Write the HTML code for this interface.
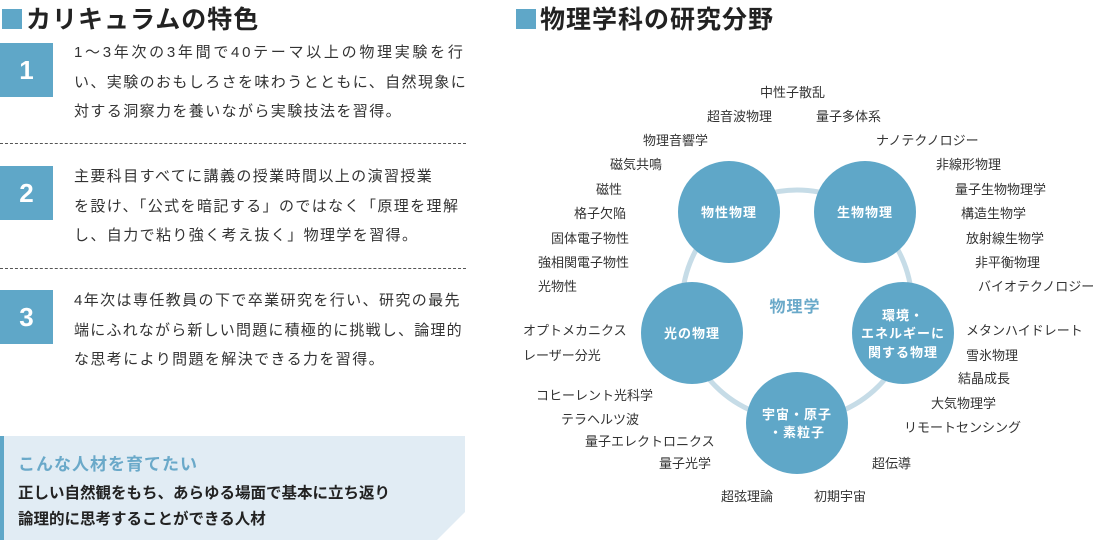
<!DOCTYPE html>
<html><head><meta charset="utf-8"><style>
body{margin:0;width:1098px;height:545px;background:#fff;position:relative;overflow:hidden;font-family:"Liberation Sans","Noto Sans CJK JP",sans-serif;color:#222}
.a{position:absolute;white-space:nowrap}
h2{position:absolute;margin:0;font-size:25px;font-weight:bold;color:#222;letter-spacing:1px}
.sq{display:inline-block;width:20px;height:20px;background:#5fa7c8;margin-right:4px;vertical-align:-1px}
.num{position:absolute;left:0;width:53px;height:54px;background:#5fa7c8;color:#fff;font-size:26px;font-weight:bold;text-align:center;line-height:54px}
.p{position:absolute;left:74px;font-size:15px;line-height:29.5px;letter-spacing:1.4px;color:#333;white-space:nowrap}
.dash{position:absolute;left:0;width:466px;border-top:1px dashed #555}
.l{position:absolute;font-size:13px;white-space:nowrap;color:#333}
</style></head><body>
<h2 style="left:2px;top:0px"><span class="sq"></span>カリキュラムの特色</h2>
<h2 style="left:516px;top:0px"><span class="sq"></span>物理学科の研究分野</h2>

<div class="num" style="top:43px">1</div>
<div class="p" style="top:38px"><span style="letter-spacing:2.7px">1～3年次の3年間で40テーマ以上の物理実験を行</span><br>い、実験のおもしろさを味わうとともに、自然現象に<br>対する洞察力を養いながら実験技法を習得。</div>
<div class="dash" style="top:143px"></div>
<div class="num" style="top:166px">2</div>
<div class="p" style="top:162px">主要科目すべてに講義の授業時間以上の演習授業<br>を設け、「公式を暗記する」のではなく「原理を理解<br>し、自力で粘り強く考え抜く」物理学を習得。</div>
<div class="dash" style="top:268px"></div>
<div class="num" style="top:290px">3</div>
<div class="p" style="top:286px"><span style="letter-spacing:1.4px">4年次は専任教員の下で卒業研究を行い、研究の最先</span><br><span style="letter-spacing:1.2px">端にふれながら新しい問題に積極的に挑戦し、論理的</span><br>な思考により問題を解決できる力を習得。</div>

<svg class="a" style="left:0;top:436px" width="470" height="106"><polygon points="0,0 465,0 465,76 437,104 0,104" fill="#e1ecf4"/><rect x="0" y="0" width="4" height="104" fill="#5fa7c8"/></svg>
<div class="a" style="left:18px;top:450px;font-size:17px;font-weight:bold;color:#6aa9c9;letter-spacing:1px">こんな人材を育てたい</div>
<div class="a" style="left:18px;top:481px;font-size:15.5px;font-weight:bold;line-height:26px;color:#222">正しい自然観をもち、あらゆる場面で基本に立ち返り<br>論理的に思考することができる人材</div>

<svg class="a" style="left:0;top:0" width="1098" height="545">
<circle cx="797" cy="305" r="115" fill="none" stroke="#c6dce7" stroke-width="5"/>
<g fill="#5fa7c8">
<circle cx="729" cy="212" r="51"/><circle cx="865" cy="212" r="51"/>
<circle cx="692" cy="333" r="51"/><circle cx="903" cy="333" r="51"/>
<circle cx="797" cy="423" r="51"/></g>
<g fill="#fff" font-weight="bold" font-size="13" text-anchor="middle" font-family="Liberation Sans,Noto Sans CJK JP,sans-serif" letter-spacing="1">
<text x="729" y="217">物性物理</text><text x="865" y="217">生物物理</text>
<text x="692" y="338">光の物理</text>
<text x="903" y="320">環境・</text><text x="903" y="338">エネルギーに</text><text x="903" y="357">関する物理</text>
<text x="797" y="419">宇宙・原子</text><text x="797" y="437">・素粒子</text></g>
<text x="795" y="312" fill="#6aa9c9" font-size="16" font-weight="bold" text-anchor="middle" font-family="Liberation Sans,Noto Sans CJK JP,sans-serif" letter-spacing="1">物理学</text>
</svg>

<div class="l" style="left:760px;top:82px">中性子散乱</div>
<div class="l" style="left:707px;top:106px">超音波物理</div>
<div class="l" style="left:816px;top:106px">量子多体系</div>
<div class="l" style="left:643px;top:130px">物理音響学</div>
<div class="l" style="left:876px;top:130px">ナノテクノロジー</div>
<div class="l" style="left:610px;top:154px">磁気共鳴</div>
<div class="l" style="left:936px;top:154px">非線形物理</div>
<div class="l" style="left:596px;top:179px">磁性</div>
<div class="l" style="left:955px;top:179px">量子生物物理学</div>
<div class="l" style="left:574px;top:203px">格子欠陥</div>
<div class="l" style="left:961px;top:203px">構造生物学</div>
<div class="l" style="left:551px;top:228px">固体電子物性</div>
<div class="l" style="left:966px;top:228px">放射線生物学</div>
<div class="l" style="left:538px;top:252px">強相関電子物性</div>
<div class="l" style="left:975px;top:252px">非平衡物理</div>
<div class="l" style="left:538px;top:276px">光物性</div>
<div class="l" style="left:978px;top:276px">バイオテクノロジー</div>
<div class="l" style="left:523px;top:320px">オプトメカニクス</div>
<div class="l" style="left:966px;top:320px">メタンハイドレート</div>
<div class="l" style="left:523px;top:345px">レーザー分光</div>
<div class="l" style="left:966px;top:345px">雪氷物理</div>
<div class="l" style="left:958px;top:368px">結晶成長</div>
<div class="l" style="left:536px;top:385px">コヒーレント光科学</div>
<div class="l" style="left:931px;top:393px">大気物理学</div>
<div class="l" style="left:561px;top:409px">テラヘルツ波</div>
<div class="l" style="left:904px;top:417px">リモートセンシング</div>
<div class="l" style="left:585px;top:431px">量子エレクトロニクス</div>
<div class="l" style="left:659px;top:453px">量子光学</div>
<div class="l" style="left:872px;top:453px">超伝導</div>
<div class="l" style="left:721px;top:486px">超弦理論</div>
<div class="l" style="left:814px;top:486px">初期宇宙</div>
</body></html>
